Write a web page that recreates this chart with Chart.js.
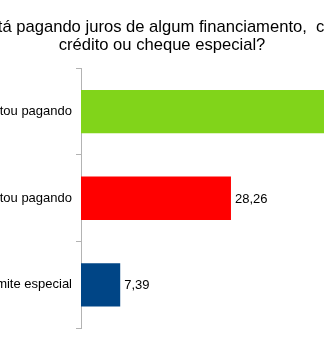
<!DOCTYPE html>
<html>
<head>
<meta charset="utf-8">
<script src="https://cdn.jsdelivr.net/npm/chart.js@4"></script>
<style>
html, body { margin:0; padding:0; overflow:hidden; background:#fff; }
#wrap { position:absolute; left:-155px; top:0; width:634px; height:340px; }
</style>
</head>
<body>
<div id="wrap"><canvas id="grafico" width="634" height="340"></canvas></div>
<script>
// ==============================
// DATOS
// ==============================

const titulo = ["Você está pagando juros de algum financiamento,  cartão de", "crédito ou cheque especial?"];
const categorias = ["Não estou pagando", "Sim, estou pagando", "Não tenho cartão ou limite especial"];
const valores = [64.35, 28.26, 7.39];
const colores = ["#81d41a", "#ff0000", "#004586"];

// ==============================
// ETIQUETAS DE VALOR
// ==============================

const etiquetas = {
id: "etiquetas",
afterDatasetsDraw(chart){
const ctx = chart.ctx;
const meta = chart.getDatasetMeta(0);
ctx.save();
ctx.font = "13px 'Liberation Sans', Arial, sans-serif";
ctx.fillStyle = "#000";
ctx.textAlign = "left";
ctx.textBaseline = "middle";
meta.data.forEach((bar, i) => {
ctx.fillText(valores[i].toFixed(2).replace(".", ","), bar.x + 4, bar.y + 1);
});
ctx.restore();
}
};

// ==============================
// GRAFICO
// ==============================

const ctx = document.getElementById("grafico").getContext("2d");

new Chart(ctx, {
type: "bar",
data: {
labels: categorias,
datasets: [{
data: valores,
backgroundColor: colores,
barPercentage: 0.5,
categoryPercentage: 1
}]
},
options: {
responsive: false,
animation: false,
indexAxis: "y",
layout: { padding: { top: 0, bottom: 7, left: 0, right: 0 } },
plugins: {
legend: { display: false },
tooltip: { enabled: false },
title: {
display: true,
text: titulo,
color: "#000",
font: { family: "'Liberation Sans', Arial, sans-serif", size: 16.6, weight: "normal", lineHeight: 1.1 },
padding: { top: 18.4, bottom: 13.3 }
}
},
scales: {
x: { display: false, min: 0, max: 75 },
y: {
afterFit: s => { s.width = 236; },
grid: { drawOnChartArea: false, offset: true, tickLength: 5, color: "#b3b3b3" },
border: { display: true, color: "#b3b3b3" },
ticks: { color: "#000", padding: 4, font: { family: "'Liberation Sans', Arial, sans-serif", size: 13 } }
}
}
},
plugins: [etiquetas]
});
</script>
</body>
</html>
